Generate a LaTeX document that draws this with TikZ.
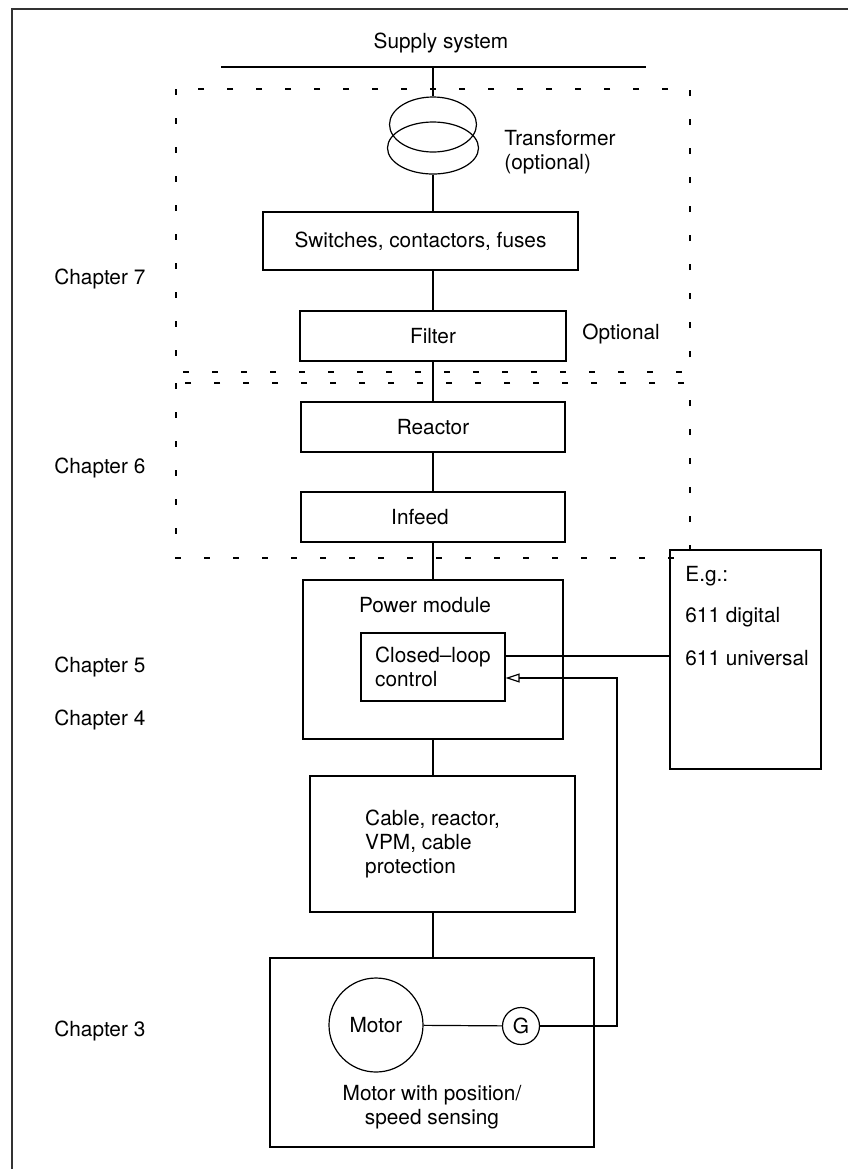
\documentclass[tikz,border=0pt]{standalone}
\usepackage{fontspec}
\setmainfont{TeX Gyre Heros}
\usetikzlibrary{shapes.geometric,arrows.meta}

\tikzset{
  blk/.style={draw,line width=0.6pt,inner sep=0pt,align=center},
  chap/.style={anchor=west,inner sep=0pt},
  chapbox/.style={line width=0.55pt,dash pattern=on 2.8pt off 11.7pt},
  wire/.style={line width=0.6pt},
}

\begin{document}
\begin{tikzpicture}[x=0.5pt,y=-0.5pt,font=\fontsize{10.4}{12.2}\selectfont]
\useasboundingbox (0,0) rectangle (848,1169);
%frame
\draw[line width=1pt,black!80] (12,1169) -- (12,9) -- (848,9);

%dashed chapter regions
\draw[chapbox] (176,89) rectangle (690,372);
\draw[chapbox] (176,383) rectangle (690,558);

\node[chap] (ch7) at (54,279)  {Chapter 7};
\node[chap] (ch6) at (54,468)  {Chapter 6};
\node[chap] (ch5) at (54,667)  {Chapter 5};
\node[chap] (ch4) at (54,720)  {Chapter 4};
\node[chap] (ch3) at (54,1031) {Chapter 3};

%supply
\node (supply) at (441,43) {Supply system};
\coordinate (busL) at (221,67);
\coordinate (busR) at (646,67);
\coordinate (bus) at (433,67);
\draw[wire] (busL) -- (busR);

%transformer
\node[draw,ellipse,line width=0.6pt,minimum width=43.5pt,minimum height=27.5pt,inner sep=0pt] (trA) at (433,124.5) {};
\node[draw,ellipse,line width=0.6pt,minimum width=45.5pt,minimum height=26pt,inner sep=0pt] (trB) at (433,148) {};
\node[chap,align=left] (trtxt) at (504,152) {Transformer\\(optional)};

\node[blk,minimum width=157.5pt,minimum height=29pt] (switches) at (420.5,241) {Switches, contactors, fuses};
\node[blk,minimum width=133pt,minimum height=25pt] (filter) at (433,336) {Filter};
\node[chap] (opt) at (582,334) {Optional};
\node[blk,minimum width=132pt,minimum height=25pt] (reactor) at (433,427) {Reactor};
\node[blk,minimum width=132pt,minimum height=25pt] (infeed) at (433,517) {Infeed\hspace*{13pt}};

%power module
\node[blk,minimum width=130pt,minimum height=79.5pt] (pm) at (433,659.5) {};
\node (pmtxt) at (425,605) {Power module};
\node[blk,minimum width=72pt,minimum height=34pt,align=left] (ctrl) at (433,667) {Closed--loop\\control};

%E.g. box
\node[blk,minimum width=75.5pt,minimum height=109.5pt] (eg) at (745.5,659.5) {};
\node[chap] (egA) at (685,576) {E.g.:};
\node[chap] (egB) at (685,617) {611 digital};
\node[chap] (egC) at (685,658) {611 universal};

\node[blk,minimum width=132.5pt,minimum height=68pt,align=left] (cable) at (442.5,844) {Cable, reactor,\hspace*{10pt}\\VPM, cable\\protection};

%motor
\node[blk,minimum width=162pt,minimum height=94.5pt] (mbox) at (432,1052.5) {};
\node[draw,circle,line width=0.6pt,minimum size=47pt,inner sep=0pt] (motor) at (376,1025) {Motor};
\node[draw,circle,line width=0.6pt,minimum size=18.5pt,inner sep=0pt] (G) at (521,1026) {G};
\node[align=center] (mtxt) at (432,1107) {Motor with position/\\speed sensing};
\coordinate (fbk) at (617,1026);

%connections
\draw[wire] (bus) -- (trA.north);
\draw[wire] (trB.south) -- (trB.south |- switches.north);
\draw[wire] (filter.north |- switches.south) -- (filter.north);
\draw[wire] (filter) -- (reactor);
\draw[wire] (reactor) -- (infeed);
\draw[wire] (infeed) -- (pm);
\draw[wire] (pm.south) -- (pm.south |- cable.north);
\draw[wire] (pm.south |- cable.south) -- (pm.south |- mbox.north);
\draw[wire] (motor) -- (G);
\draw[wire] ([yshift=5.5pt]ctrl.east) -- ([yshift=5.5pt]ctrl.east -| eg.west);
\draw[wire,-{Triangle[open,length=7pt,width=4.5pt]}] (G) -- (fbk) |- ([yshift=-5.5pt]ctrl.east);

\end{tikzpicture}
\end{document}
